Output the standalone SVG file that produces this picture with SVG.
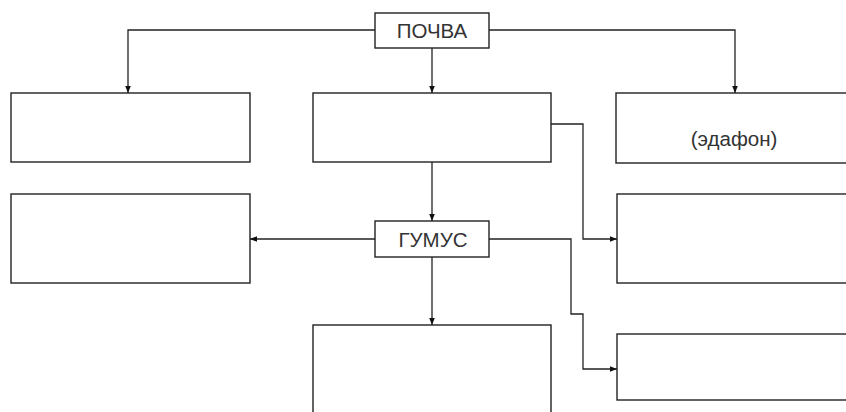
<svg xmlns="http://www.w3.org/2000/svg" width="846" height="412" viewBox="0 0 846 412">
<defs>
<marker id="arr" viewBox="0 0 10 10" refX="10" refY="5" markerWidth="7" markerHeight="7" markerUnits="userSpaceOnUse" orient="auto">
<path d="M0,1 L10,5 L0,9 Z" fill="#111"/>
</marker>
<style>
.box{fill:#fff;stroke:#222;stroke-width:1.4}
.ln{fill:none;stroke:#222;stroke-width:1.3}
.t{font-family:"Liberation Sans",Arial,sans-serif;font-size:20.5px;fill:#333;text-anchor:middle}
</style>
</defs>
<rect width="846" height="412" fill="#fff"/>
<g id="connectors">
<path class="ln" d="M375,30 H128 V93" marker-end="url(#arr)"/>
<path class="ln" d="M489,30 H735 V93" marker-end="url(#arr)"/>
<path class="ln" d="M432,48 V93" marker-end="url(#arr)"/>
<path class="ln" d="M432,162 V221" marker-end="url(#arr)"/>
<path class="ln" d="M375,239 H250" marker-end="url(#arr)"/>
<path class="ln" d="M432,257 V325" marker-end="url(#arr)"/>
<path class="ln" d="M551,124 H583 V239 H617" marker-end="url(#arr)"/>
<path class="ln" d="M489,239 H571 V314 H583 V369 H617" marker-end="url(#arr)"/>
</g>
<g id="pochva"><rect class="box" x="375" y="13" width="114" height="35"/><text class="t" x="432" y="38">ПОЧВА</text></g>
<g id="box-left-1"><rect class="box" x="11" y="93" width="239" height="69"/></g>
<g id="box-mid-1"><rect class="box" x="313" y="93" width="238" height="69"/></g>
<g id="box-right-1"><rect class="box" x="616" y="93" width="250" height="70"/><text class="t" x="734" y="146">(эдафон)</text></g>
<g id="box-left-2"><rect class="box" x="11" y="194" width="239" height="89"/></g>
<g id="gumus"><rect class="box" x="375" y="221" width="114" height="36"/><text class="t" x="433" y="247">ГУМУС</text></g>
<g id="box-right-2"><rect class="box" x="617" y="194" width="250" height="89"/></g>
<g id="box-mid-2"><rect class="box" x="313" y="325" width="238" height="100"/></g>
<g id="box-right-3"><rect class="box" x="617" y="334" width="250" height="66"/></g>
</svg>
